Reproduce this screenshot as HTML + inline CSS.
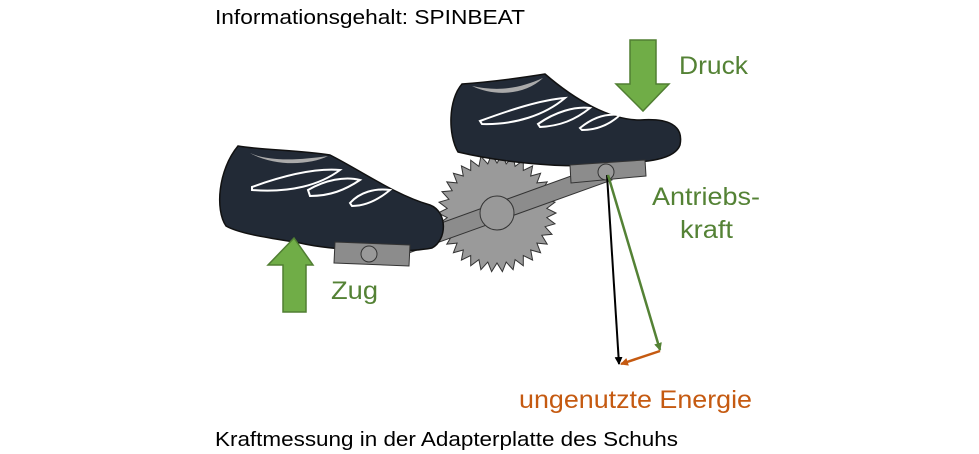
<!DOCTYPE html>
<html><head><style>body{margin:0;background:#fff}svg{display:block}</style></head><body>
<svg width="979" height="454" viewBox="0 0 979 454" xmlns="http://www.w3.org/2000/svg" font-family="Liberation Sans, sans-serif">
<defs>
<marker id="ab" markerWidth="8" markerHeight="8" refX="7" refY="4" orient="auto" markerUnits="userSpaceOnUse"><path d="M0,0 L8,4 L0,8z" fill="#000"/></marker>
<marker id="ag" markerWidth="8" markerHeight="8" refX="7" refY="4" orient="auto" markerUnits="userSpaceOnUse"><path d="M0,0 L8,4 L0,8z" fill="#548235"/></marker>
<marker id="ao" markerWidth="8" markerHeight="8" refX="7" refY="4" orient="auto" markerUnits="userSpaceOnUse"><path d="M0,0 L8,4 L0,8z" fill="#C55A11"/></marker>
</defs>
<text x="215" y="24" font-size="20" fill="#000" textLength="310" lengthAdjust="spacingAndGlyphs">Informationsgehalt: SPINBEAT</text>
<text x="215" y="446" font-size="20" fill="#000" textLength="463" lengthAdjust="spacingAndGlyphs">Kraftmessung in der Adapterplatte des Schuhs</text>
<polygon id="gear" fill="#9a9a9a" stroke="#333" stroke-width="1" points="0,0"/>
<script>
(function(){var cx=497,cy=213,n=34,ro=59,ri=50,p=[];for(var i=0;i<2*n;i++){var r=i%2?ri:ro,a=Math.PI*i/n;p.push((cx+r*Math.cos(a)).toFixed(1)+','+(cy+r*Math.sin(a)).toFixed(1));}
document.getElementById('gear').setAttribute('points',p.join(' '));})();
</script>
<polygon points="372,248 607,163 612,180 378,264" fill="#8c8c8c" stroke="#333" stroke-width="1"/>
<circle cx="497" cy="213" r="17" fill="#999" stroke="#333" stroke-width="1"/>
<!-- left shoe -->
<path d="M238,146 C260,150 300,150 330,155 C360,170 395,195 430,205 C448,212 447,240 432,248 C400,254 330,250 300,243 C270,238 240,234 226,226 C215,210 218,170 238,146z" fill="#222a36" stroke="#111" stroke-width="1.5"/>
<path d="M250,153 C270,162 300,160 328,156 C310,165 275,167 250,153z" fill="#aaa"/>
<g fill="none" stroke="#fff" stroke-width="2">
<path d="M252,187 C285,175 315,168 340,170 C320,185 290,193 252,190z"/>
<path d="M308,190 C325,180 345,176 360,180 C345,190 330,196 310,196z"/>
<path d="M350,203 C360,192 375,188 390,190 C378,200 365,206 352,206z"/>
</g>
<polygon points="335,242 410,245 409,266 334,263" fill="#8c8c8c" stroke="#333" stroke-width="1"/>
<circle cx="369" cy="254" r="8" fill="#999" stroke="#333" stroke-width="1"/>
<!-- right shoe -->
<path d="M462,84 C490,82 520,78 545,74 C575,100 610,120 640,120 C668,118 684,125 680,145 C674,162 640,162 600,165 C560,168 500,162 458,152 C448,135 448,100 462,84z" fill="#222a36" stroke="#111" stroke-width="1.5"/>
<path d="M472,86 C500,92 520,88 543,78 C525,95 495,97 472,86z" fill="#aaa"/>
<g fill="none" stroke="#fff" stroke-width="2">
<path d="M480,121 C510,110 540,100 565,98 C545,115 515,125 482,124z"/>
<path d="M538,124 C555,112 575,106 590,108 C575,120 560,126 540,127z"/>
<path d="M580,128 C592,118 605,113 620,115 C608,126 595,130 582,130z"/>
</g>
<polygon points="570,165 645,160 646,176 571,183" fill="#8c8c8c" stroke="#333" stroke-width="1"/>
<circle cx="606" cy="172" r="8" fill="#999" stroke="#333" stroke-width="1"/>
<line x1="607" y1="175" x2="619" y2="364" stroke="#000" stroke-width="2" marker-end="url(#ab)"/>
<line x1="608" y1="175" x2="660" y2="350" stroke="#548235" stroke-width="2.5" marker-end="url(#ag)"/>
<line x1="660" y1="351" x2="621" y2="364" stroke="#C55A11" stroke-width="2.5" marker-end="url(#ao)"/>
<polygon points="630,40 656,40 656,84 669,84 643,111 616,84 630,84" fill="#70AD47" stroke="#507e32" stroke-width="1.5"/>
<polygon points="283,312 306,312 306,265 313,265 294,238 268,265 283,265" fill="#70AD47" stroke="#507e32" stroke-width="1.5"/>
<text x="679" y="74" font-size="25" fill="#548235" textLength="69" lengthAdjust="spacingAndGlyphs">Druck</text>
<text x="652" y="205" font-size="25" fill="#548235" textLength="108" lengthAdjust="spacingAndGlyphs">Antriebs-</text>
<text x="680" y="238" font-size="25" fill="#548235" textLength="53" lengthAdjust="spacingAndGlyphs">kraft</text>
<text x="331" y="299" font-size="25" fill="#548235" textLength="47" lengthAdjust="spacingAndGlyphs">Zug</text>
<text x="519" y="408" font-size="25" fill="#C55A11" textLength="233" lengthAdjust="spacingAndGlyphs">ungenutzte Energie</text>
</svg>
</body></html>
